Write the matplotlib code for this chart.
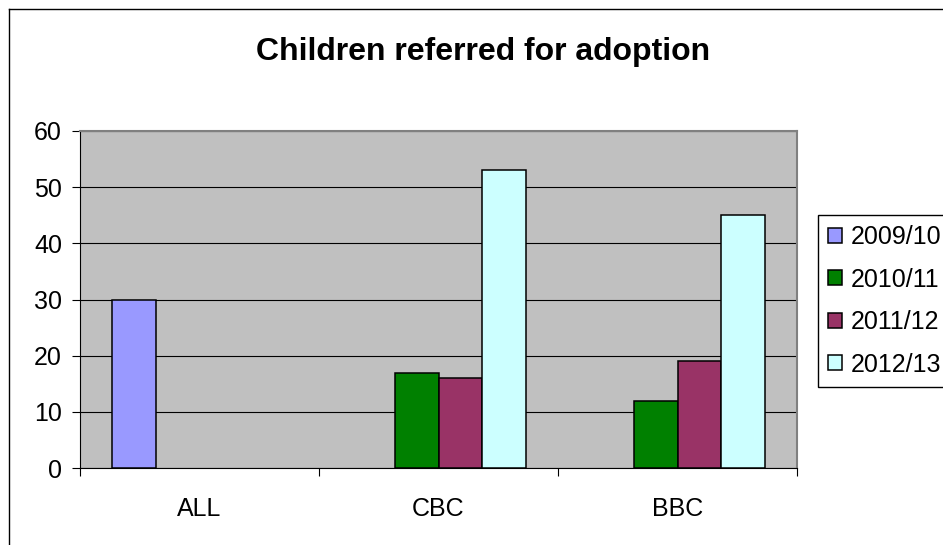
import matplotlib
matplotlib.use("Agg")
import matplotlib.pyplot as plt
from matplotlib.lines import Line2D
import numpy as np

plt.rcParams['font.family'] = ['Liberation Sans', 'DejaVu Sans']

categories = ["ALL", "CBC", "BBC"]
series = ["2009/10", "2010/11", "2011/12", "2012/13"]
values = {
    "2009/10": [30, 0, 0],
    "2010/11": [0, 17, 12],
    "2011/12": [0, 16, 19],
    "2012/13": [0, 53, 45],
}
colors = ["#9999FF", "#008000", "#993366", "#CCFFFF"]
title = "Children referred for adoption"
yticks = [0, 10, 20, 30, 40, 50, 60]

W, H = 943, 545
fig = plt.figure(figsize=(W / 100, H / 100), dpi=100)
ax = fig.add_axes([80 / W, 1 - 468 / H, (797 - 80) / W, (468 - 131) / H])
ax.set_facecolor("#C0C0C0")

x = np.arange(len(categories))
bw = 44 / 240
for i, s in enumerate(series):
    vals = np.array(values[s], dtype=float)
    mask = vals > 0
    ax.bar(x[mask] + (i - 1.5) * bw, vals[mask], width=bw, color=colors[i],
           edgecolor="black", linewidth=1.1, label=s, zorder=3)

ax.set_xlim(-0.5, len(categories) - 0.5)
ax.set_ylim(0, 60)
ax.set_yticks(yticks)
ax.set_yticklabels([str(v) for v in yticks])
ax.yaxis.grid(True, color="black", linewidth=0.8, zorder=1)
ax.set_axisbelow(True)

ax.set_xticks(np.arange(len(categories) + 1) - 0.5)
ax.set_xticklabels([])
ax.set_xticks(x, minor=True)
ax.set_xticklabels(categories, minor=True)
ax.tick_params(axis="x", which="major", direction="out", length=6, width=0.8, color="black")
ax.tick_params(axis="x", which="minor", length=0, pad=21, labelsize=18)
ax.tick_params(axis="y", direction="out", length=6, width=0.8, pad=7, labelsize=18)

for side in ["top", "right"]:
    ax.spines[side].set_color("#808080")
    ax.spines[side].set_linewidth(1.5)
for side in ["bottom", "left"]:
    ax.spines[side].set_color("black")
    ax.spines[side].set_linewidth(0.8)

fig.text(483 / W, 1 - 60 / H, title, ha="center", va="baseline",
         fontsize=23, fontweight="bold")

leg = fig.legend(loc="upper left", bbox_to_anchor=(818 / W, 1 - 215 / H),
                 frameon=True, fancybox=False, shadow=False, framealpha=1,
                 fontsize=18, handlelength=0.56, handleheight=0.56,
                 handletextpad=0.36, borderpad=0.4, labelspacing=0.74,
                 borderaxespad=0)
leg.get_frame().set_edgecolor("black")
leg.get_frame().set_linewidth(1.0)

# outer chart frame
fig.add_artist(Line2D([8.5 / W, 8.5 / W], [0, 1 - 8.5 / H], transform=fig.transFigure,
                      color="black", linewidth=1.0))
fig.add_artist(Line2D([8.5 / W, 1], [1 - 8.5 / H, 1 - 8.5 / H], transform=fig.transFigure,
                      color="black", linewidth=1.0))

fig.savefig("out.png", dpi=100)
